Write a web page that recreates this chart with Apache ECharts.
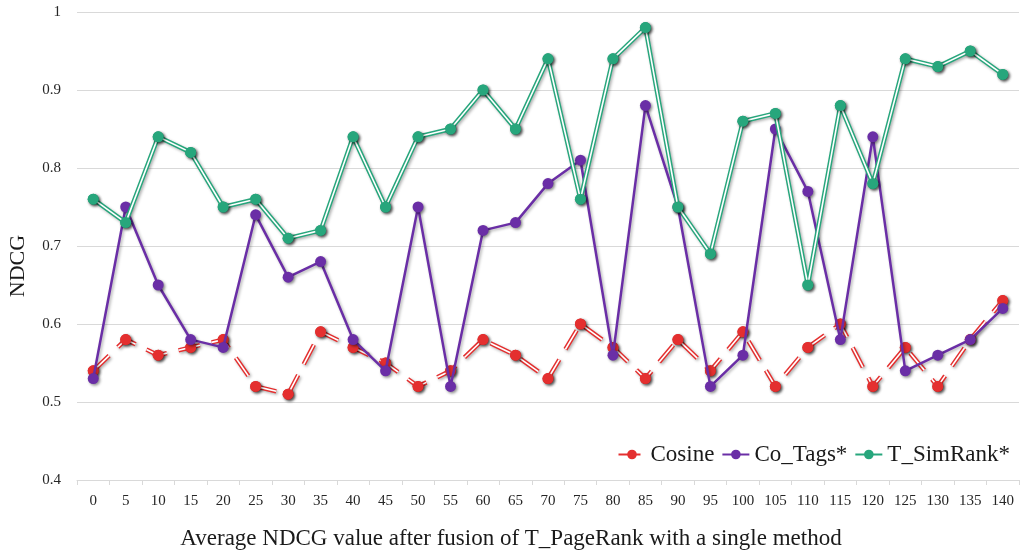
<!DOCTYPE html>
<html>
<head>
<meta charset="utf-8">
<script src="https://cdn.jsdelivr.net/npm/echarts@6/dist/echarts.min.js"></script>
<style>
html,body{margin:0;padding:0;background:#fff;}
#chart{width:1021px;height:551px;}
</style>
</head>
<body>
<div id="chart"></div>
<script>
var categories = ['0','5','10','15','20','25','30','35','40','45','50','55','60','65','70','75','80','85','90','95','100','105','110','115','120','125','130','135','140'];
var cosine = [0.54,0.58,0.56,0.57,0.58,0.52,0.51,0.59,0.57,0.55,0.52,0.54,0.58,0.56,0.53,0.60,0.57,0.53,0.58,0.54,0.59,0.52,0.57,0.60,0.52,0.57,0.52,0.58,0.63];
var coTags = [0.53,0.75,0.65,0.58,0.57,0.74,0.66,0.68,0.58,0.54,0.75,0.52,0.72,0.73,0.78,0.81,0.56,0.88,0.75,0.52,0.56,0.85,0.77,0.58,0.84,0.54,0.56,0.58,0.62];
var tSimRank = [0.76,0.73,0.84,0.82,0.75,0.76,0.71,0.72,0.84,0.75,0.84,0.85,0.90,0.85,0.94,0.76,0.94,0.98,0.75,0.69,0.86,0.87,0.65,0.88,0.78,0.94,0.93,0.95,0.92];
var seriesNames = ['Cosine','Co_Tags*','T_SimRank*'];
var yTitle = 'NDCG';
var xTitle = 'Average NDCG value after fusion of T_PageRank with a single method';

var RED = '#e42f2f', PURPLE = '#6a2ea6', GREEN = '#27a67c';
var FONT = '"Liberation Serif", "Times New Roman", serif';
var markerStyle = function(c){ return {color:c, shadowBlur:3, shadowColor:'rgba(0,0,0,0.45)', shadowOffsetX:1.5, shadowOffsetY:1.5}; };
var lineShadow = {shadowBlur:3, shadowColor:'rgba(0,0,0,0.3)', shadowOffsetX:1.5, shadowOffsetY:1.5};
var dash = [22, 12];

var chart = echarts.init(document.getElementById('chart'), null, {renderer:'canvas'});
chart.setOption({
  animation:false,
  backgroundColor:'#fff',
  grid:{left:77, right:2, top:12, bottom:71, containLabel:false, outerBoundsMode:'none'},
  legend:{
    data:seriesNames, right:6, top:438, itemWidth:27, itemHeight:12, itemGap:7,
    textStyle:{fontFamily:FONT, fontSize:23, color:'#1a1a1a'}
  },
  xAxis:{
    type:'category', data:categories, boundaryGap:true,
    name:xTitle, nameLocation:'middle', nameGap:47,
    nameTextStyle:{fontFamily:FONT, fontSize:23, color:'#1a1a1a', padding:[0,74,0,0]},
    axisLine:{lineStyle:{color:'#d9d9d9', width:1}},
    axisTick:{show:true, length:5, lineStyle:{color:'#d9d9d9'}},
    axisLabel:{fontFamily:FONT, fontSize:15, color:'#262626', margin:14}
  },
  yAxis:{
    type:'value', min:0.4, max:1, interval:0.1,
    name:yTitle, nameLocation:'middle', nameGap:48,
    nameTextStyle:{fontFamily:FONT, fontSize:22, color:'#1a1a1a', padding:[0,40,0,0]},
    axisLine:{show:false}, axisTick:{show:false},
    axisLabel:{fontFamily:FONT, fontSize:15, color:'#262626', margin:16},
    splitLine:{lineStyle:{color:'#d9d9d9', width:1}}
  },
  series:[
    {name:'Cosine', type:'line', data:cosine, z:2, symbol:'circle', symbolSize:11,
     lineStyle:Object.assign({color:RED, width:4.5, type:dash}, lineShadow), itemStyle:markerStyle(RED)},
    {name:'cos_inner', type:'line', data:cosine, z:3, symbol:'none', silent:true,
     lineStyle:{color:'#fff', width:1.6, type:dash}},
    {name:'cos_marks', type:'line', data:cosine, z:4, symbol:'circle', symbolSize:11,
     lineStyle:{opacity:0, width:0}, itemStyle:markerStyle(RED)},
    {name:'Co_Tags*', type:'line', data:coTags, z:5, symbol:'circle', symbolSize:11,
     lineStyle:Object.assign({color:PURPLE, width:2.5}, lineShadow), itemStyle:markerStyle(PURPLE)},
    {name:'T_SimRank*', type:'line', data:tSimRank, z:6, symbol:'circle', symbolSize:11,
     lineStyle:Object.assign({color:GREEN, width:4.5}, lineShadow), itemStyle:markerStyle(GREEN)},
    {name:'sim_inner', type:'line', data:tSimRank, z:7, symbol:'none', silent:true,
     lineStyle:{color:'#fff', width:1.6}},
    {name:'sim_marks', type:'line', data:tSimRank, z:8, symbol:'circle', symbolSize:11,
     lineStyle:{opacity:0, width:0}, itemStyle:markerStyle(GREEN)}
  ]
});
</script>
</body>
</html>
